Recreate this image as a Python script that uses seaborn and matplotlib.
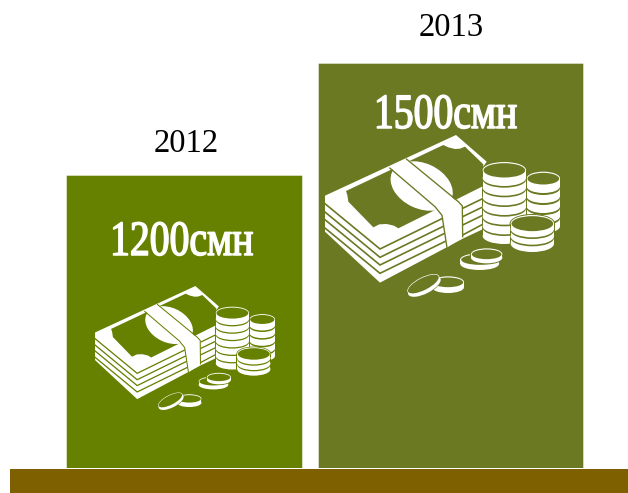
#!/usr/bin/env python3
# -*- coding: utf-8 -*-
import matplotlib
matplotlib.use('Agg')
import matplotlib.pyplot as plt
import matplotlib.patheffects as pe
from matplotlib.patches import Ellipse, Polygon, Rectangle
from matplotlib.transforms import Affine2D
import pandas as pd
import seaborn as sns

years = ['2012', '2013']
salaries = [1200, 1500]
bar_colors = ['#668000', '#6b7923']
unit = 'смн'

GROUND = '#7f6000'
W, H = 628, 493
BASE_Y = 468

sns.set_theme(style='white')
plt.rcParams['font.family'] = ['Liberation Serif', 'DejaVu Serif']


class Squeeze(pe.AbstractPathEffect):
    # narrow the text horizontally, the reference uses a condensed serif
    def __init__(self, cx, sx, stroke):
        super().__init__()
        self.cx, self.sx, self.stroke = cx, sx, stroke

    def draw_path(self, renderer, gc, tpath, affine, rgbFace=None):
        squeeze = Affine2D().translate(-self.cx, 0).scale(self.sx, 1).translate(self.cx, 0)
        gc0 = renderer.new_gc()
        gc0.copy_properties(gc)
        gc0.set_linewidth(self.stroke)
        gc0.set_foreground('white')
        renderer.draw_path(gc0, tpath, affine + squeeze, rgbFace)
        gc0.restore()


fig = plt.figure(figsize=(W / 100, H / 100), dpi=100)

# --- Bars ---------------------------------------------------------------------
ax = fig.add_axes([0, (H - BASE_Y) / H, 1, BASE_Y / H])
df = pd.DataFrame({'year': years, 'salary': salaries})
sns.barplot(data=df, x='year', y='salary', hue='year', palette=bar_colors,
            saturation=1, width=0.9, legend=False, ax=ax)
ax.set_xlim(-184.5 / 266.5, (W - 184.5) / 266.5)
ax.set_ylim(415.3, 1668.7)
ax.axis('off')

# bars in the reference are not equally wide
for patch, w in zip(ax.patches, [0.889, 0.998]):
    c = patch.get_x() + patch.get_width() / 2
    patch.set_width(w)
    patch.set_x(c - w / 2)
    patch.set_snap(False)

# --- Overlay in pixel coordinates ---------------------------------------------
ov = fig.add_axes([0, 0, 1, 1])
ov.set_xlim(0, W)
ov.set_ylim(H, 0)
ov.axis('off')
ov.add_patch(Rectangle((10, 469), W - 10, H - 469, color=GROUND, lw=0))


def draw_icon(x0, y0, s, bg):
    tr = Affine2D().scale(s).translate(x0, y0) + ov.transData

    def add(p):
        p.set_transform(tr)
        ov.add_patch(p)

    def poly(pts, color):
        add(Polygon(pts, closed=True, facecolor=color, edgecolor='none'))

    def line(pts, width=5):
        add(Polygon(pts, closed=False, fill=False, edgecolor=bg, linewidth=width * s * 0.72))

    def ell(cx, cy, rx, ry, color, angle=0):
        add(Ellipse((cx, cy), 2 * rx, 2 * ry, angle=angle, facecolor=color, edgecolor='none'))

    def rect(x, y, w, h, color):
        add(Rectangle((x, y), w, h, facecolor=color, edgecolor='none'))

    def stack(cx, top, rx, ry, n, pitch, gap, halo=0):
        bottom = top + n * pitch - gap
        if halo:
            rect(cx - rx - halo, top, 2 * (rx + halo), bottom - top, bg)
            ell(cx, bottom, rx + halo, ry + halo, bg)
            ell(cx, top, rx + halo, ry + halo, bg)
        for i in reversed(range(n)):
            cy = top + i * pitch
            if i < n - 1:
                ell(cx, cy + pitch, rx, ry, bg)
            ell(cx, cy + pitch - gap, rx, ry, 'white')
            rect(cx - rx, cy, 2 * rx, pitch - gap, 'white')
        ell(cx, top, rx, ry, 'white')
        ell(cx, top + 1, rx - 2.5, ry - 2.5, bg)

    # banknote stack
    poly([(15, 197), (408, 15), (500, 95), (490, 110), (490, 297), (430, 325),
          (380, 352), (180, 458), (15, 305)], 'white')
    poly([(78, 183), (370, 45), (385, 52), (405, 57), (420, 56), (435, 50), (490, 103), (490, 168),
          (235, 295), (222, 287), (200, 282), (178, 283), (160, 292), (85, 215), (82, 195)], bg)
    ell(305, 168, 98, 68, 'white', angle=25)

    # layers, left and right of the band
    for left, corner, right in [(217, 357, 260), (242, 382, 285), (265, 405, 308), (290, 430, 333)]:
        line([(10, left), (180, corner), (378, right)])
    for a, b in [(235, 205), (260, 230), (285, 255), (315, 282)]:
        line([(428, a), (490, b)])

    # paper band
    poly([(212, 113), (258, 88), (425, 226), (428, 320), (382, 352), (366, 258)], 'white')
    line([(208, 113), (345, 230), (366, 256), (381, 353)], 4)
    line([(258, 86), (415, 215), (427, 228), (428, 322)], 4)

    # coins
    stack(670, 145, 50, 20, 5, 30, 6)
    stack(553, 120, 65, 24, 7, 29, 5, halo=3)
    stack(637, 280, 65, 25, 3, 22, 5, halo=3)
    stack(479, 388, 58, 18, 1, 14, 0)
    stack(500, 372, 47, 17, 1, 11, 0, halo=3)
    stack(384, 456, 48, 17, 1, 16, 0)
    ell(313, 470, 55, 23, bg, angle=-27)
    ell(313, 469, 54, 22, 'white', angle=-27)
    ell(310, 462, 53, 20, 'white', angle=-27)
    ell(310, 462, 51, 18, bg, angle=-27)


draw_icon(91.2, 282.2, 0.2553, bar_colors[0])
draw_icon(320, 130, 1 / 3, bar_colors[1])

# --- Text ---------------------------------------------------------------------
for year, x, y in zip(years, [186, 451], [152.5, 36.5]):
    ov.text(x, y, year, fontsize=23.5, color='black', ha='center', va='baseline')

for val, x, y in zip(salaries, [181.7, 445.5], [255, 128]):
    t = ov.text(x, y, f'{val}{unit}', fontsize=35.5, color='white',
                ha='center', va='baseline')
    t.set_path_effects([Squeeze(x, 0.805, 1.1)])

fig.savefig('out.png', dpi=100)
plt.close(fig)
